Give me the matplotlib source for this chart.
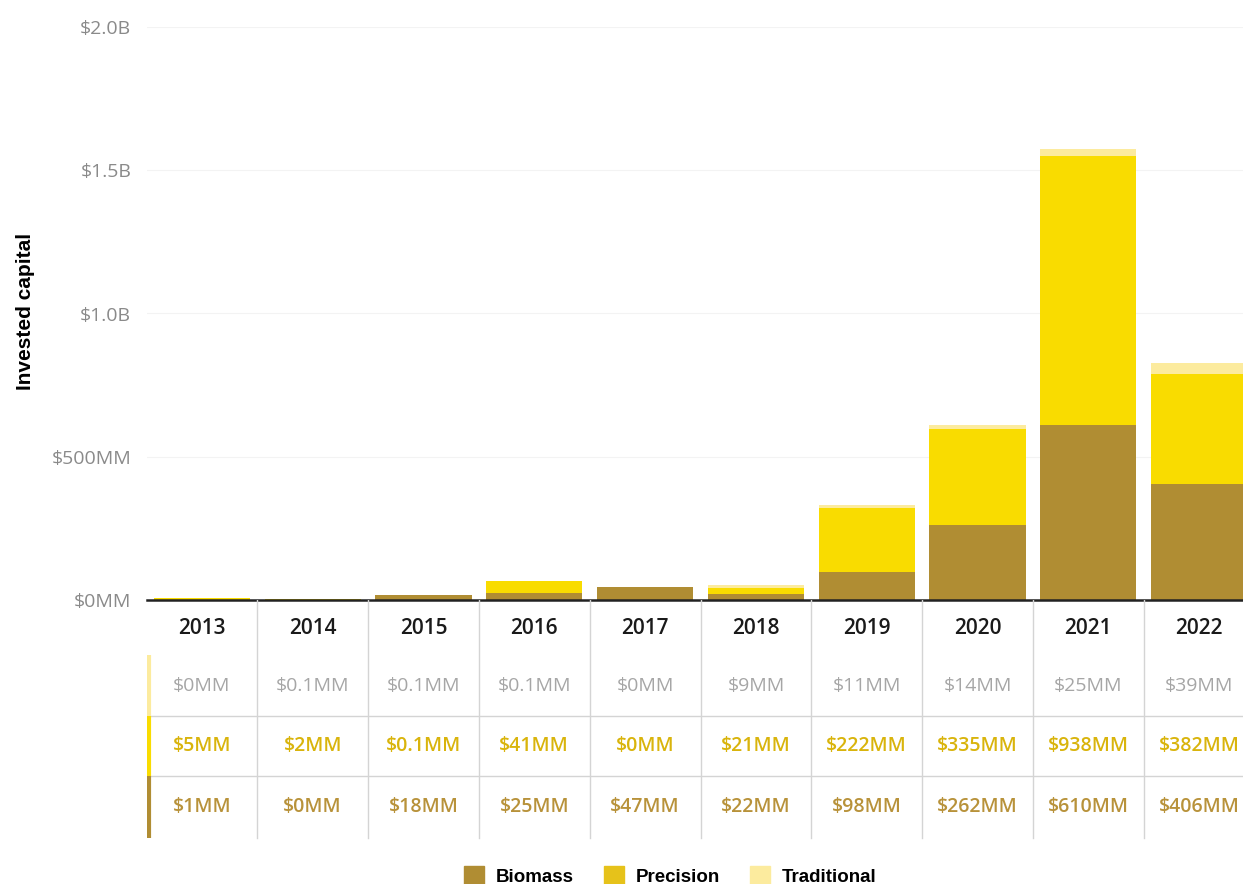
import matplotlib.pyplot as plt
import numpy as np
from matplotlib.patches import Patch

years = ["2013", "2014", "2015", "2016", "2017", "2018", "2019", "2020", "2021", "2022"]
biomass = [1, 0, 18, 25, 47, 22, 98, 262, 610, 406]
precision = [5, 2, 0.1, 41, 0, 21, 222, 335, 938, 382]
traditional = [0, 0.1, 0.1, 0.1, 0, 9, 11, 14, 25, 39]

y_ticks = [0, 500, 1000, 1500, 2000]
y_tick_labels = ["$0MM", "$500MM", "$1.0B", "$1.5B", "$2.0B"]

C_BIO, C_PREC, C_TRAD = "#B08D33", "#F9DC00", "#FCEB9E"
T_BIO, T_PREC, T_TRAD = "#B8923A", "#D9B40C", "#A6A6A6"

W, H = 1243, 884
fig = plt.figure(figsize=(W / 100, H / 100), dpi=100)
plt.rcParams["font.family"] = ["Open Sans", "DejaVu Sans"]


def px_axes(x0, y0, x1, y1):
    # axes placed by pixel box (top-left origin)
    return fig.add_axes([x0 / W, 1 - y1 / H, (x1 - x0) / W, (y1 - y0) / H])


col_w = 110.8
left = 146.5
xmax = -0.5 + (W - left) / col_w

ax = px_axes(left, 27, W, 600)
x = np.arange(len(years))
bw = 0.87
b = np.array(biomass, float)
p = np.array(precision, float)
t = np.array(traditional, float)
ax.bar(x, b, bw, color=C_BIO, zorder=3)
ax.bar(x, p, bw, bottom=b, color=C_PREC, zorder=3)
ax.bar(x, t, bw, bottom=b + p, color=C_TRAD, zorder=3)
ax.set_xlim(-0.5, xmax)
ax.set_ylim(0, 2000)
ax.set_yticks(y_ticks)
ax.set_yticklabels(y_tick_labels, color="#8a8a8a", fontsize=14)
ax.tick_params(axis="y", length=0, pad=11)
ax.set_xticks([])
for yv in y_ticks[1:]:
    ax.axhline(yv, color="#f3f3f3", lw=0.8, zorder=1)
for s in ["top", "right", "left"]:
    ax.spines[s].set_visible(False)
ax.spines["bottom"].set_color("#222222")
ax.spines["bottom"].set_linewidth(1.8)
ax.spines["bottom"].set_zorder(4)
ax.set_ylabel("Invested capital", fontsize=15, fontweight="bold",
              family=["Liberation Sans", "DejaVu Sans"])
ax.yaxis.set_label_coords(-(left - 35) / (W - left), 0.504)

# value table under the bars
tab = px_axes(left, 600, W, 840)
tab.set_xlim(-0.5, xmax)
tab.set_ylim(240, 0)
tab.axis("off")
row_edges = [(55, 116), (116, 176), (176, 238)]
row_vals = [traditional, precision, biomass]
row_txt = [T_TRAD, T_PREC, T_BIO]
row_bar = [C_TRAD, C_PREC, C_BIO]


def fmt(v):
    return "$0.1MM" if 0 < v < 1 else f"${v:.0f}MM"


for i in range(len(years) - 1):
    tab.plot([i + 0.5, i + 0.5], [0, 238], color="#d4d4d4", lw=1)
for _, y1 in row_edges[:2]:
    tab.plot([-0.5, xmax], [y1, y1], color="#d4d4d4", lw=1)
for (y0, y1), c in zip(row_edges, row_bar):
    tab.plot([-0.48, -0.48], [y0, y1], color=c, lw=3, solid_capstyle="butt")
for i, yr in enumerate(years):
    tab.text(i, 28, yr, ha="center", va="center", fontsize=15,
             fontweight="semibold", color="#1a1a1a")
    for (y0, y1), vals, c in zip(row_edges, row_vals, row_txt):
        weight = "normal" if c == T_TRAD else "semibold"
        tab.text(i, (y0 + y1) / 2, fmt(vals[i]), ha="center", va="center",
                 fontsize=14, color=c, fontweight=weight)

handles = [Patch(color=C_BIO), Patch(color="#E6C21A"), Patch(color=C_TRAD)]
fig.legend(handles, ["Biomass", "Precision", "Traditional"], loc="center",
           bbox_to_anchor=(670 / W, 1 - 876 / H), ncol=3, frameon=False,
           handlelength=1.1, handleheight=1.1, columnspacing=1.6,
           handletextpad=0.6, prop={"family": ["Liberation Sans", "DejaVu Sans"],
                                    "weight": "bold", "size": 13.5})

fig.savefig("out.png", dpi=100, facecolor="white")
